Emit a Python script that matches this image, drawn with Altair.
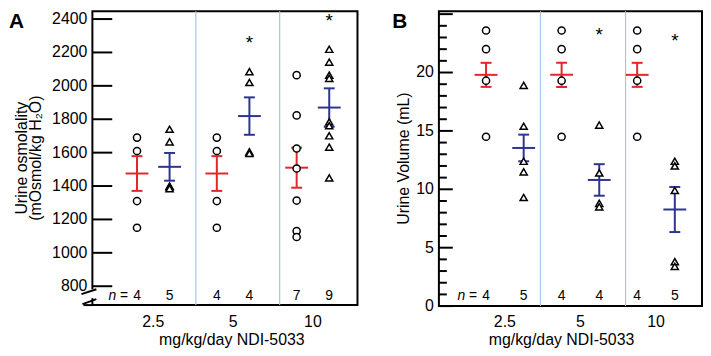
import altair as alt
import pandas as pd

# ---------------- data ----------------
doses = ["2.5", "5", "10"]

# Panel A: urine osmolality (mOsmol/kg H2O)
osm_vehicle = [[1690, 1610, 1310, 1150],
               [1690, 1610, 1310, 1150],
               [2064, 1823, 1625, 1505, 1313, 1130, 1095]]
osm_drug = [[1740, 1665, 1400, 1395, 1385],
            [2085, 2020, 1605, 1595],
            [2219, 2142, 2064, 2045, 1784, 1761, 1701, 1633, 1449]]
osm_vehicle_mean = [1475, 1475, 1510]
osm_vehicle_sem = [104, 104, 120]
osm_drug_mean = [1515, 1819, 1870]
osm_drug_sem = [83, 112, 115]
osm_star = [None, 2238, 2371]
osm_n_vehicle = [4, 4, 7]
osm_n_drug = [5, 4, 9]
osm_ticks = [800, 1000, 1200, 1400, 1600, 1800, 2000, 2200, 2400]

# Panel B: urine volume (mL)
vol_vehicle = [[23.6, 22.0, 19.3, 14.5],
               [23.6, 22.0, 19.3, 14.5],
               [23.6, 22.0, 19.3, 14.5]]
vol_drug = [[18.9, 15.4, 12.4, 11.5, 9.3],
            [15.5, 11.4, 8.8, 8.5],
            [12.4, 12.0, 9.9, 3.8, 3.4]]
vol_vehicle_mean = [19.8, 19.8, 19.8]
vol_vehicle_sem = [1.03, 1.03, 1.03]
vol_drug_mean = [13.54, 10.8, 8.27]
vol_drug_sem = [1.14, 1.35, 1.93]
vol_star = [None, 22.95, 22.4]
vol_n_vehicle = [4, 4, 4]
vol_n_drug = [5, 4, 5]
vol_major = [0, 5, 10, 15, 20, 25]
vol_labels = [0, 5, 10, 15, 20]
vol_minor = [v for v in range(1, 25) if v % 5 != 0]

x_title = "mg/kg/day NDI-5033"
osm_title = ["Urine osmolality", "(mOsmol/kg H\u2082O)"]
vol_title = ["Urine Volume (mL)"]

RED = "#e3262b"
BLUE = "#2e3590"
SEP = "#a9c4dd"
FONT = "Liberation Sans"
GROUPS = ["vehicle", "drug"]


def frames(vehicle, drug, v_mean, v_sem, d_mean, d_sem, stars, n_v, n_d, off):
    pts, stats, star_rows, n_rows = [], [], [], []
    for i in range(len(doses)):
        for v in vehicle[i]:
            pts.append(dict(pos=i - off, value=v, grp="vehicle"))
        for v in drug[i]:
            pts.append(dict(pos=i + off, value=v, grp="drug"))
        stats.append(dict(pos=i - off, mean=v_mean[i], lo=v_mean[i] - v_sem[i],
                          hi=v_mean[i] + v_sem[i], grp="vehicle"))
        stats.append(dict(pos=i + off, mean=d_mean[i], lo=d_mean[i] - d_sem[i],
                          hi=d_mean[i] + d_sem[i], grp="drug"))
        if stars[i] is not None:
            star_rows.append(dict(pos=i + off, value=stars[i]))
        n_rows.append(dict(pos=i - off, n=str(n_v[i])))
        n_rows.append(dict(pos=i + off, n=str(n_d[i])))
    return (pd.DataFrame(pts), pd.DataFrame(stats),
            pd.DataFrame(star_rows), pd.DataFrame(n_rows))


def panel(vehicle, drug, v_mean, v_sem, d_mean, d_sem, stars, n_v, n_d,
          off, xdom, ydom, w, h, seps, major, major_len, minor, minor_len,
          labels, ytitle, ytitle_x, letter, letter_x, n_y, xlab_y, xtitle_y,
          xtitle_dx, with_break=False):
    pts, stats, star_df, n_df = frames(vehicle, drug, v_mean, v_sem,
                                       d_mean, d_sem, stars, n_v, n_d, off)
    xs = alt.Scale(domain=xdom, nice=False, zero=False)
    ys = alt.Scale(domain=ydom, nice=False, zero=False)
    color = alt.Color("grp:N", scale=alt.Scale(domain=GROUPS, range=[RED, BLUE]),
                      legend=None)

    def X(field):
        return alt.X(field, scale=xs, axis=None)

    def Y(field):
        return alt.Y(field, scale=ys, axis=None)

    def tick_px(v):
        # same linear mapping as the y scale (domain -> [h, 0])
        return h * (ydom[1] - v) / (ydom[1] - ydom[0])

    one = pd.DataFrame({"k": [0]})
    layers = []
    # separators between dose groups
    layers.append(alt.Chart(pd.DataFrame({"sep": seps})).mark_rule(
        color=SEP, strokeWidth=1.2).encode(
        x=X("sep:Q"), y=alt.value(0), y2=alt.value(h)))
    # inward y-axis ticks (axis furniture)
    for vals, length in ((major, major_len), (minor, minor_len)):
        for v in vals:
            py = tick_px(v)
            layers.append(alt.Chart(one).mark_rule(color="black", strokeWidth=2).encode(
                x=alt.value(0), x2=alt.value(length), y=alt.value(py), y2=alt.value(py)))
    # y tick labels
    layers.append(alt.Chart(pd.DataFrame({"lab": labels})).mark_text(
        fontSize=16, font=FONT, align="right", baseline="middle",
        color="black").encode(
        x=alt.value(-5), y=Y("lab:Q"), text=alt.Text("lab:Q", format="d")))
    # y title (one text line per entry)
    for k, line in enumerate(ytitle):
        layers.append(alt.Chart(one).mark_text(
            text=line, fontSize=16, font=FONT, angle=270, align="center",
            baseline="middle", color="black").encode(
            x=alt.value(ytitle_x + 14 * k), y=alt.value(h / 2)))
    # x category labels
    layers.append(alt.Chart(pd.DataFrame({"pos": list(range(len(doses))),
                                          "dose": doses})).mark_text(
        fontSize=16, font=FONT, baseline="middle", color="black").encode(
        x=X("pos:Q"), y=alt.value(xlab_y), text="dose:N"))
    # x title
    layers.append(alt.Chart(one).mark_text(
        text=x_title, fontSize=16, font=FONT, baseline="middle",
        color="black").encode(x=alt.value(w / 2 + xtitle_dx), y=alt.value(xtitle_y)))
    # error bars
    layers.append(alt.Chart(stats).mark_rule(strokeWidth=2).encode(
        x=X("pos:Q"), y=Y("lo:Q"), y2="hi:Q", color=color))
    for fld, size in (("mean", 23), ("lo", 11), ("hi", 11)):
        layers.append(alt.Chart(stats).mark_tick(
            orient="horizontal", size=size, thickness=2, opacity=1).encode(
            x=X("pos:Q"), y=Y(fld + ":Q"), color=color))
    # individual animals
    layers.append(alt.Chart(pts).mark_point(
        filled=True, fill="white", stroke="black", strokeWidth=1.5,
        size=52, opacity=1).encode(
        x=X("pos:Q"), y=Y("value:Q"),
        shape=alt.Shape("grp:N", scale=alt.Scale(domain=GROUPS,
                        range=["circle", "triangle-up"]), legend=None)))
    # significance stars
    layers.append(alt.Chart(star_df).mark_text(
        text="*", fontSize=19, font=FONT, baseline="alphabetic", dy=3,
        color="black").encode(x=X("pos:Q"), y=Y("value:Q")))
    # n labels
    layers.append(alt.Chart(n_df).mark_text(
        fontSize=14, font=FONT, baseline="middle", color="black").encode(
        x=X("pos:Q"), y=alt.value(n_y), text="n:N"))
    first = n_df.iloc[[0]]
    layers.append(alt.Chart(first).mark_text(
        text="=", fontSize=14, font=FONT, baseline="middle", align="right",
        dx=-9, color="black").encode(x=X("pos:Q"), y=alt.value(n_y)))
    layers.append(alt.Chart(first).mark_text(
        text="n", fontSize=14, font=FONT, fontStyle="italic", baseline="middle",
        align="right", dx=-21, color="black").encode(x=X("pos:Q"), y=alt.value(n_y)))
    # panel letter
    layers.append(alt.Chart(one).mark_text(
        text=letter, fontSize=21, font=FONT, fontWeight="bold", align="left",
        baseline="top", color="black").encode(
        x=alt.value(letter_x), y=alt.value(0)))
    if with_break:
        layers.append(alt.Chart(one).mark_rule(color="white", strokeWidth=5).encode(
            x=alt.value(0), x2=alt.value(0), y=alt.value(h - 16), y2=alt.value(h - 7)))
        layers.append(alt.Chart(one).mark_rule(color="black", strokeWidth=2).encode(
            x=alt.value(-9), x2=alt.value(0), y=alt.value(h), y2=alt.value(h)))
        layers.append(alt.Chart(one).mark_rule(color="black", strokeWidth=2).encode(
            x=alt.value(-11), x2=alt.value(4), y=alt.value(h - 11), y2=alt.value(h - 16)))
        layers.append(alt.Chart(one).mark_rule(color="black", strokeWidth=2).encode(
            x=alt.value(-10), x2=alt.value(4), y=alt.value(h - 1), y2=alt.value(h - 6)))
    return alt.layer(*layers).properties(width=w, height=h)


panel_a = panel(osm_vehicle, osm_drug, osm_vehicle_mean, osm_vehicle_sem,
                osm_drug_mean, osm_drug_sem, osm_star, osm_n_vehicle, osm_n_drug,
                off=0.204, xdom=[-0.763, 2.558], ydom=[687, 2447], w=267, h=296,
                seps=[0.533, 1.583], major=osm_ticks, major_len=20, minor=[],
                minor_len=0, labels=osm_ticks, ytitle=osm_title, ytitle_x=-71,
                letter="A", letter_x=-84, n_y=287, xlab_y=313, xtitle_y=331,
                xtitle_dx=7, with_break=True)

panel_b = panel(vol_vehicle, vol_drug, vol_vehicle_mean, vol_vehicle_sem,
                vol_drug_mean, vol_drug_sem, vol_star, vol_n_vehicle, vol_n_drug,
                off=0.249, xdom=[-0.873, 2.609], ydom=[0, 25.25], w=265, h=297,
                seps=[0.471, 1.597], major=vol_major, major_len=14, minor=vol_minor,
                minor_len=8, labels=vol_labels, ytitle=vol_title, ytitle_x=-35,
                letter="B", letter_x=-47, n_y=287, xlab_y=313, xtitle_y=331,
                xtitle_dx=-9)

chart = alt.hconcat(panel_a, panel_b, spacing=82, bounds="flush", padding=0).configure_view(
    stroke="black", strokeWidth=2
).configure_text(font=FONT)

chart.save("out.html", embed_options={"renderer": "svg", "actions": False})
